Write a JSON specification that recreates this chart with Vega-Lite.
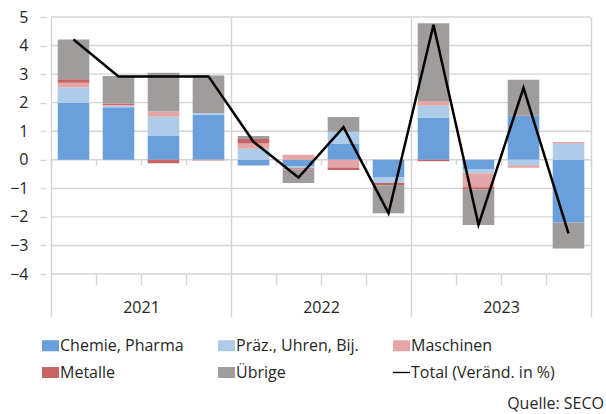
{
  "$schema": "https://vega.github.io/schema/vega-lite/v6.json",
  "width": 550,
  "height": 257,
  "autosize": {"type": "none"},
  "padding": {"left": 46, "top": 17, "right": 10, "bottom": 140},
  "config": {
    "font": "Open Sans",
    "view": {"stroke": null},
    "axis": {"labelFont": "Open Sans", "labelFontSize": 16, "labelColor": "#262626", "gridColor": "#d4d4d4", "tickColor": "#d4d4d4", "domainColor": "#d4d4d4", "gridWidth": 1.4, "tickWidth": 1.4, "title": null},
    "legend": {"labelFont": "Open Sans", "labelFontSize": 16, "labelColor": "#262626"}
  },
  "title": {"text": "Quelle: SECO", "orient": "bottom", "anchor": "end", "frame": "group", "font": "Open Sans", "fontSize": 16, "fontWeight": "normal", "color": "#262626", "offset": 15, "dx": 8},
  "data": {"values": [
    {"t": 1, "chem": 2.00, "praez": 0.53, "masch": 0.17, "met": 0.12, "ueb": 1.39, "total": 4.21},
    {"t": 2, "chem": 1.84, "praez": 0.05, "masch": 0.03, "met": 0.05, "ueb": 0.96, "total": 2.92},
    {"t": 3, "chem": 0.85, "praez": 0.66, "masch": 0.18, "met": -0.12, "ueb": 1.36, "total": 2.92},
    {"t": 4, "chem": 1.58, "praez": 0.06, "masch": -0.03, "met": 0.0, "ueb": 1.31, "total": 2.92},
    {"t": 5, "chem": -0.20, "praez": 0.39, "masch": 0.18, "met": 0.16, "ueb": 0.10, "total": 0.63},
    {"t": 6, "chem": -0.22, "praez": -0.08, "masch": 0.18, "met": -0.04, "ueb": -0.47, "total": -0.62},
    {"t": 7, "chem": 0.57, "praez": 0.41, "masch": -0.27, "met": -0.09, "ueb": 0.52, "total": 1.14},
    {"t": 8, "chem": -0.62, "praez": -0.19, "masch": 0.0, "met": -0.08, "ueb": -0.98, "total": -1.87},
    {"t": 9, "chem": 1.48, "praez": 0.41, "masch": 0.17, "met": -0.05, "ueb": 2.72, "total": 4.73},
    {"t": 10, "chem": -0.34, "praez": -0.13, "masch": -0.49, "met": -0.07, "ueb": -1.25, "total": -2.28},
    {"t": 11, "chem": 1.54, "praez": -0.19, "masch": -0.09, "met": 0.02, "ueb": 1.24, "total": 2.52},
    {"t": 12, "chem": -2.20, "praez": 0.56, "masch": 0.04, "met": 0.01, "ueb": -0.91, "total": -2.58}
  ]},
  "layer": [
    {
      "data": {"values": [{"g": -4}, {"g": -3}, {"g": -2}, {"g": -1}, {"g": 0}, {"g": 1}, {"g": 2}, {"g": 3}, {"g": 4}, {"g": 5}]},
      "mark": {"type": "rule", "color": "#d4d4d4", "strokeWidth": 1.4},
      "encoding": {
        "x": {"datum": 0.5, "type": "quantitative", "axis": null},
        "x2": {"datum": 12.5},
        "y": {"field": "g", "type": "quantitative", "axis": null}
      }
    },
    {
      "transform": [
        {"fold": ["chem", "praez", "masch", "met", "ueb"], "as": ["cat", "v"]},
        {"calculate": "indexof(['chem', 'praez', 'masch', 'met', 'ueb'], datum.cat)", "as": "k"}
      ],
      "mark": {"type": "bar", "width": 31.6},
      "encoding": {
        "x": {"field": "t", "type": "quantitative", "scale": {"domain": [0.5, 12.5], "nice": false, "zero": false},
          "axis": {"orient": "bottom", "values": [0.5, 1.5, 2.5, 3.5, 4.5, 5.5, 6.5, 7.5, 8.5, 9.5, 10.5, 11.5, 12.5],
            "labelExpr": "datum.value == 2.5 ? '2021' : datum.value == 6.5 ? '2022' : datum.value == 10.5 ? '2023' : ''",
            "tickSize": {"condition": {"test": "datum.value == 0.5 || datum.value == 4.5 || datum.value == 8.5 || datum.value == 12.5", "value": 43}, "value": 11},
            "grid": true,
            "gridOpacity": {"condition": {"test": "datum.value == 0.5 || datum.value == 4.5 || datum.value == 8.5 || datum.value == 12.5", "value": 1}, "value": 0},
            "domain": false, "labelPadding": 14, "labelFlush": false, "labelOverlap": false}},
        "y": {"field": "v", "type": "quantitative", "stack": "zero", "scale": {"domain": [-4, 5], "nice": false},
          "axis": {"orient": "left", "values": [-4, -3, -2, -1, 0, 1, 2, 3, 4, 5], "grid": false, "domain": false, "tickSize": 6, "labelPadding": 12, "labelOverlap": false, "labelFlush": false}},
        "color": {"field": "cat", "type": "nominal",
          "scale": {"domain": ["chem", "praez", "masch", "met", "ueb", "total"],
            "range": ["#6b9fdb", "#afcbea", "#e3a5a5", "#c96464", "#a09c9b", "#000000"]},
          "legend": {"orient": "none", "legendX": -4, "legendY": 320, "columns": 3, "direction": "horizontal", "title": null,
            "symbolSize": 289, "symbolStrokeWidth": 0, "labelOffset": 1, "columnPadding": 34, "rowPadding": 10,
            "symbolType": "M-1,-0.65H1V0.65H-1Z",
            "labelExpr": "datum.label == 'chem' ? 'Chemie, Pharma' : datum.label == 'praez' ? 'Präz., Uhren, Bij.' : datum.label == 'masch' ? 'Maschinen' : datum.label == 'met' ? 'Metalle' : datum.label == 'ueb' ? 'Übrige' : 'Total (Veränd. in %)'",
            "encode": {"symbols": {"update": {
              "shape": {"signal": "datum.value === 'total' ? 'M-1,-0.08H1V0.08H-1Z' : 'M-1,-0.65H1V0.65H-1Z'"},
              "fill": {"signal": "scale('color', datum.value)"},
              "stroke": {"value": "transparent"},
              "opacity": {"value": 1}, "fillOpacity": {"value": 1}}}}}},
        "order": {"field": "k", "type": "quantitative"}
      }
    },
    {
      "mark": {"type": "line", "strokeWidth": 2.5},
      "encoding": {
        "x": {"field": "t", "type": "quantitative",
          "axis": {"orient": "bottom", "offset": -114.2, "values": [0.5, 1.5, 2.5, 3.5, 4.5, 5.5, 6.5, 7.5, 8.5, 9.5, 10.5, 11.5, 12.5], "labels": false, "grid": false, "domain": false, "tickSize": 5}},
        "y": {"field": "total", "type": "quantitative", "axis": null},
        "color": {"datum": "total"}
      }
    }
  ],
  "resolve": {"axis": {"x": "independent", "y": "independent"}}
}
